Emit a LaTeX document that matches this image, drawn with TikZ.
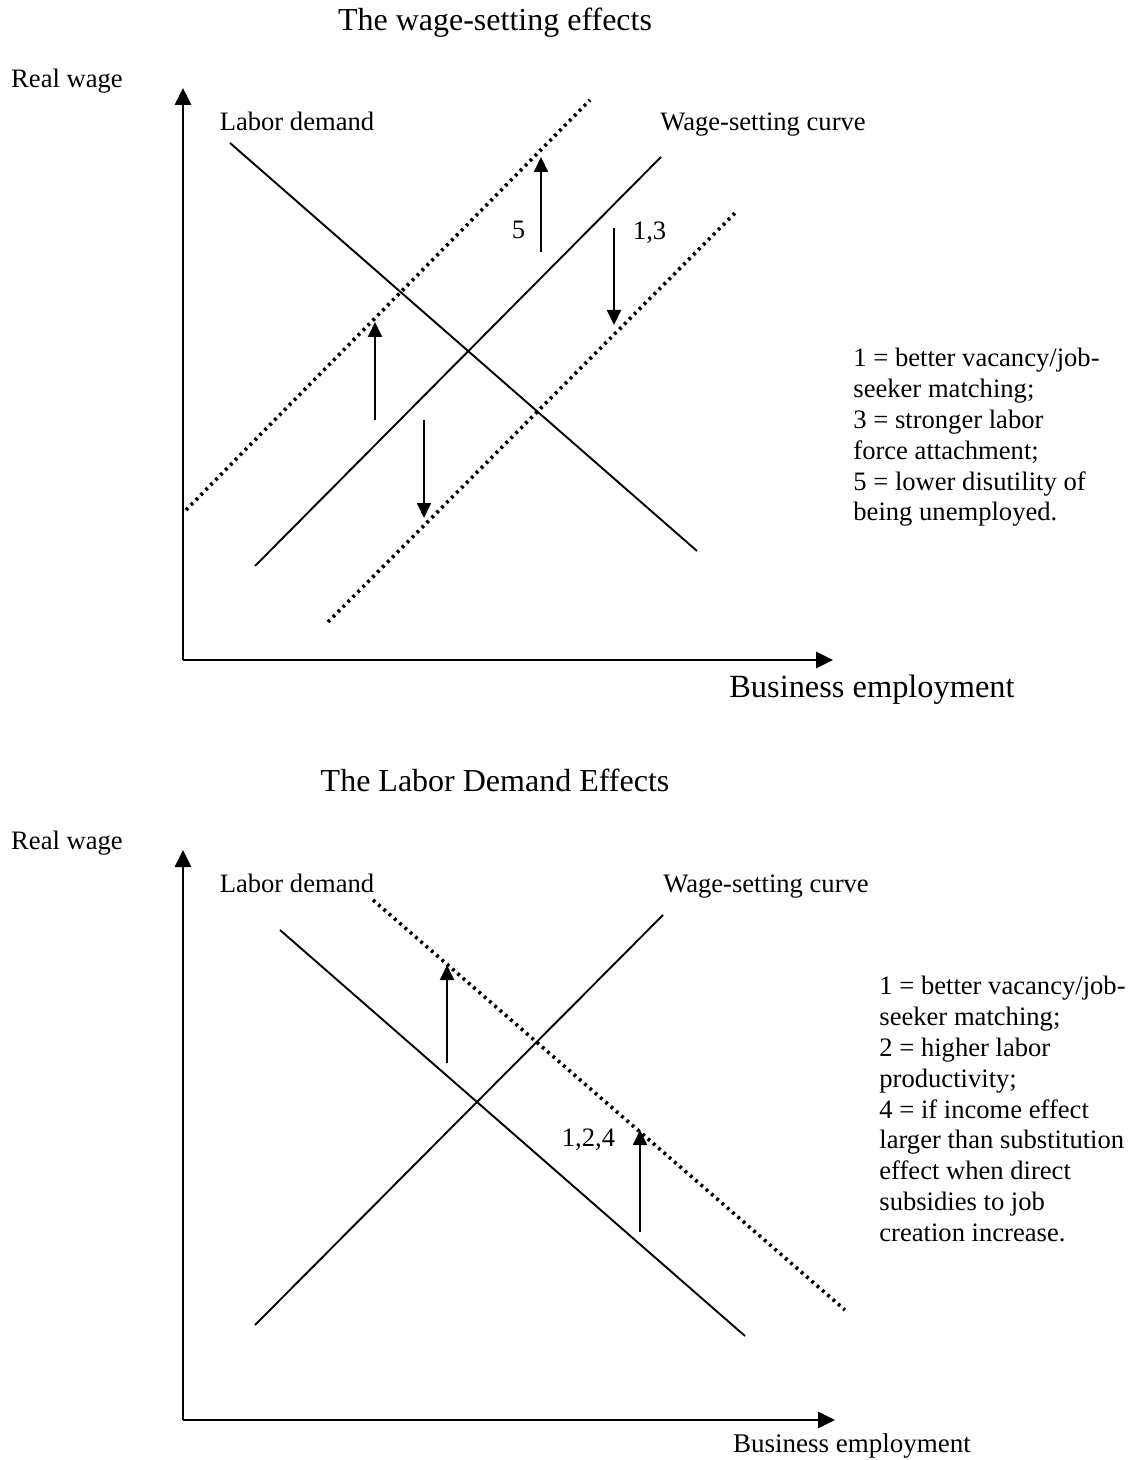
\documentclass[tikz,border=0pt]{standalone}
\usepackage{fontspec}
\setmainfont{Liberation Serif}
\usetikzlibrary{arrows.meta}

\tikzset{
  axisline/.style={line width=1.4pt,-{Triangle[length=8.5pt,width=8pt]}},
  schedule/.style={line width=0.95pt},
  newschedule/.style={line width=1.8pt,dash pattern=on 1.4pt off 2.1pt},
  move/.style={line width=0.95pt,-{Triangle[length=7.5pt,width=7pt]}},
  lbl/.style={font=\fontsize{13.3}{15.4}\selectfont,inner sep=0pt},
  ttl/.style={font=\fontsize{16}{19}\selectfont,inner sep=0pt},
  note/.style={lbl,align=left,anchor=north west},
}

\begin{document}
\begin{tikzpicture}[x=0.5pt,y=-0.5pt]
    \useasboundingbox (0,0) rectangle (1139,1460);
    % the wage-setting effects
    \node[ttl] (ws-title) at (495,23) {The wage-setting effects};
    \node[lbl] (ws-yl) at (67,81) {Real wage};
    \coordinate (ws-o) at (183,660);
    \coordinate (ws-y) at (183,88);
    \coordinate (ws-x) at (833,660);
    \draw[axisline] (ws-o) -- (ws-y);
    \draw[axisline] (ws-o) -- (ws-x);
    \node[lbl,font=\fontsize{16.2}{19}\selectfont] (ws-xl) at (872,690) {Business employment};
    \node[lbl,anchor=base] (ws-ldl) at (297,131) {Labor demand};
    \node[lbl,anchor=base] (ws-wsl) at (763,131) {Wage-setting curve};
    \coordinate (ws-ld1) at (230,143);
    \coordinate (ws-ld2) at (697,551);
    \coordinate (ws-w1) at (255,566);
    \coordinate (ws-w2) at (661,157);
    \coordinate (ws-u1) at (186,510);
    \coordinate (ws-u2) at (590,100);
    \coordinate (ws-d1) at (328,622);
    \coordinate (ws-d2) at (735,213);
    \draw[schedule] (ws-ld1) -- (ws-ld2);
    \draw[schedule] (ws-w1) -- (ws-w2);
    \draw[newschedule] (ws-u1) -- (ws-u2);
    \draw[newschedule] (ws-d1) -- (ws-d2);
    \coordinate (ws-a1) at (541,252);
    \coordinate (ws-b1) at (541,157);
    \coordinate (ws-a2) at (375,420);
    \coordinate (ws-b2) at (375,322);
    \coordinate (ws-a3) at (614,228);
    \coordinate (ws-b3) at (614,325);
    \coordinate (ws-a4) at (424,420);
    \coordinate (ws-b4) at (424,518);
    \path[move]
      (ws-a1) edge node[lbl,pos=0.23,left=7.5pt] {5} (ws-b1)
      (ws-a2) edge (ws-b2)
      (ws-a3) edge node[lbl,pos=0.05,right=9pt] {1,3} (ws-b3)
      (ws-a4) edge (ws-b4)
      ;
    \node[note] (ws-key) at (853,348) {1 = better vacancy/job-\\seeker matching;\\3 = stronger labor\\force attachment;\\5 = lower disutility of\\being unemployed.};

    % the labor demand effects
    \node[ttl] (ld-title) at (495,780) {The Labor Demand Effects};
    \node[lbl] (ld-yl) at (67,843) {Real wage};
    \coordinate (ld-o) at (183,1420);
    \coordinate (ld-y) at (183,850);
    \coordinate (ld-x) at (835,1420);
    \draw[axisline] (ld-o) -- (ld-y);
    \draw[axisline] (ld-o) -- (ld-x);
    \node[lbl,font=\fontsize{13.5}{16}\selectfont] (ld-xl) at (852,1446) {Business employment};
    \node[lbl,anchor=base] (ld-ldl) at (297,892) {Labor demand};
    \node[lbl,anchor=base] (ld-wsl) at (766,892) {Wage-setting curve};
    \coordinate (ld-ld1) at (280,930);
    \coordinate (ld-ld2) at (745,1336);
    \coordinate (ld-n1) at (373,900);
    \coordinate (ld-n2) at (845,1310);
    \coordinate (ld-w1) at (255,1325);
    \coordinate (ld-w2) at (663,915);
    \draw[schedule] (ld-ld1) -- (ld-ld2);
    \draw[schedule] (ld-w1) -- (ld-w2);
    \draw[newschedule] (ld-n1) -- (ld-n2);
    \coordinate (ld-a1) at (447,1063);
    \coordinate (ld-b1) at (447,965);
    \coordinate (ld-a2) at (640,1232);
    \coordinate (ld-b2) at (640,1130);
    \path[move]
      (ld-a1) edge (ld-b1)
      (ld-a2) edge node[lbl,pos=0.9,left=12pt] {1,2,4} (ld-b2)
      ;
    \node[note] (ld-key) at (879,976) {1 = better vacancy/job-\\seeker matching;\\2 = higher labor\\productivity;\\4 = if income effect\\larger than substitution\\effect when direct\\subsidies to job\\creation increase.};
\end{tikzpicture}
\end{document}
